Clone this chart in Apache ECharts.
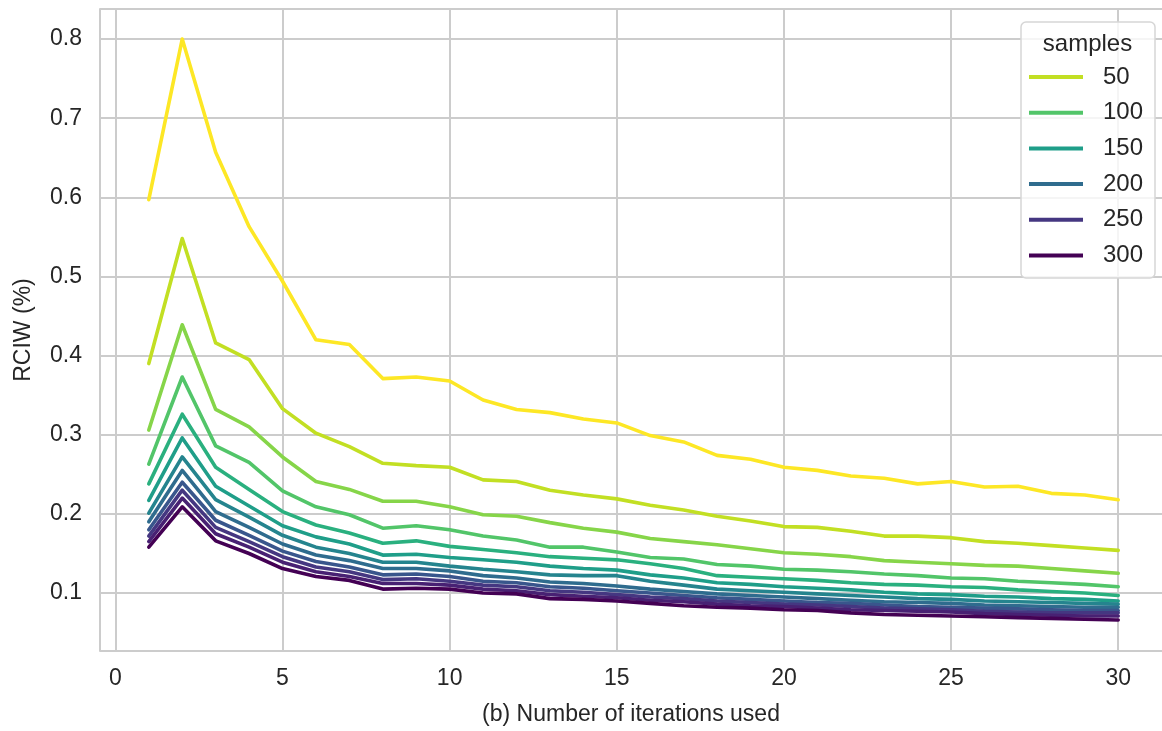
<!DOCTYPE html>
<html>
<head>
<meta charset="utf-8">
<script src="https://cdn.jsdelivr.net/npm/echarts@6/dist/echarts.min.js"></script>
<style>html,body{margin:0;padding:0;background:#fff}#c{width:1162px;height:731px}</style>
</head>
<body>
<div id="c"></div>
<script>
const iterations = [1,2,3,4,5,6,7,8,9,10,11,12,13,14,15,16,17,18,19,20,21,22,23,24,25,26,27,28,29,30];
const sampleSizes = [25,50,75,100,125,150,175,200,225,250,275,300];
const legendSamples = ['50','100','150','200','250','300'];
const seriesColors = ['#fde725','#c2df23','#86d549','#52c569','#2ab07f','#1f9e89','#25848e','#2f6c8e','#39568c','#453781','#482173','#440154'];

const rciw25  = [0.597,0.800,0.657,0.563,0.494,0.420,0.414,0.371,0.373,0.368,0.344,0.332,0.328,0.320,0.315,0.299,0.291,0.274,0.269,0.259,0.255,0.248,0.245,0.238,0.241,0.234,0.235,0.226,0.224,0.218];
const rciw50  = [0.390,0.548,0.416,0.395,0.333,0.302,0.285,0.264,0.261,0.259,0.243,0.241,0.230,0.224,0.219,0.211,0.205,0.197,0.191,0.184,0.183,0.178,0.172,0.172,0.170,0.165,0.163,0.160,0.157,0.154];
const rciw75  = [0.306,0.439,0.332,0.310,0.272,0.241,0.231,0.216,0.216,0.209,0.199,0.197,0.189,0.182,0.177,0.169,0.165,0.161,0.156,0.151,0.149,0.146,0.141,0.139,0.137,0.135,0.134,0.131,0.128,0.125];
const rciw100 = [0.263,0.373,0.286,0.265,0.229,0.209,0.199,0.182,0.185,0.180,0.172,0.167,0.158,0.158,0.152,0.145,0.143,0.136,0.134,0.130,0.129,0.127,0.124,0.122,0.119,0.118,0.115,0.113,0.111,0.108];
const rciw125 = [0.238,0.326,0.259,0.231,0.203,0.186,0.176,0.163,0.166,0.159,0.155,0.151,0.146,0.144,0.142,0.137,0.131,0.122,0.120,0.118,0.116,0.113,0.111,0.110,0.108,0.107,0.104,0.102,0.100,0.097];
const rciw150 = [0.217,0.296,0.235,0.210,0.185,0.171,0.162,0.148,0.149,0.145,0.142,0.139,0.134,0.131,0.129,0.123,0.119,0.113,0.111,0.108,0.106,0.104,0.101,0.099,0.098,0.096,0.095,0.093,0.092,0.090];
const rciw175 = [0.201,0.272,0.218,0.196,0.173,0.158,0.150,0.139,0.139,0.134,0.130,0.127,0.123,0.122,0.122,0.115,0.110,0.105,0.103,0.101,0.099,0.097,0.095,0.093,0.092,0.090,0.089,0.088,0.087,0.086];
const rciw200 = [0.190,0.255,0.203,0.183,0.162,0.148,0.141,0.131,0.131,0.128,0.122,0.119,0.114,0.112,0.109,0.105,0.102,0.099,0.097,0.095,0.093,0.091,0.089,0.088,0.087,0.085,0.084,0.083,0.082,0.082];
const rciw225 = [0.180,0.240,0.192,0.173,0.153,0.140,0.133,0.123,0.124,0.121,0.115,0.113,0.108,0.106,0.103,0.100,0.097,0.094,0.092,0.090,0.088,0.087,0.085,0.083,0.082,0.081,0.080,0.079,0.078,0.078];
const rciw250 = [0.172,0.230,0.183,0.165,0.146,0.133,0.127,0.117,0.118,0.115,0.110,0.108,0.103,0.101,0.098,0.095,0.093,0.090,0.088,0.086,0.085,0.083,0.081,0.080,0.079,0.077,0.076,0.075,0.075,0.075];
const rciw275 = [0.165,0.220,0.175,0.158,0.139,0.127,0.121,0.112,0.112,0.110,0.105,0.103,0.098,0.096,0.094,0.091,0.089,0.086,0.084,0.083,0.081,0.079,0.078,0.077,0.076,0.074,0.073,0.072,0.071,0.071];
const rciw300 = [0.158,0.209,0.166,0.150,0.131,0.121,0.116,0.105,0.106,0.105,0.100,0.099,0.093,0.092,0.090,0.087,0.084,0.082,0.081,0.079,0.078,0.075,0.073,0.072,0.071,0.070,0.069,0.068,0.067,0.066];

const allValues = [rciw25,rciw50,rciw75,rciw100,rciw125,rciw150,rciw175,rciw200,rciw225,rciw250,rciw275,rciw300];

const txt = '#262626';
const gridC = '#cccccc';
const font = '"Liberation Sans", Arial, sans-serif';

const series = sampleSizes.map((s, i) => ({
  name: String(s),
  type: 'line',
  data: iterations.map((x, j) => [x, allValues[i][j]]),
  showSymbol: false,
  symbol: 'none',
  lineStyle: { width: 3.6, color: seriesColors[i], cap: 'round', join: 'round' },
  itemStyle: { color: seriesColors[i] },
  emphasis: { disabled: true },
  animation: false,
  z: 2 + i
}));

const xMin = -0.46, xMax = 31.31;

const chart = echarts.init(document.getElementById('c'), null, { renderer: 'canvas' });
chart.setOption({
  animation: false,
  backgroundColor: '#ffffff',
  textStyle: { fontFamily: font, color: txt },
  grid: { left: 100, top: 9, right: 0, bottom: 79, show: false, containLabel: false },
  xAxis: [{
    type: 'value', min: xMin, max: xMax, splitNumber: 6,
    name: '(b) Number of iterations used', nameLocation: 'middle', nameGap: 52,
    nameTextStyle: { fontSize: 23, color: txt, fontFamily: font },
    axisLine: { show: true, lineStyle: { color: gridC, width: 2 } },
    axisTick: { show: false },
    axisLabel: { show: true, fontSize: 23, color: txt, fontFamily: font, margin: 16, showMinLabel: false, showMaxLabel: false,
      formatter: v => String(Math.round(v)) },
    splitLine: { show: true, showMaxLine: false, lineStyle: { color: gridC, width: 2 } }
  }, {
    type: 'value', position: 'top', min: xMin, max: xMax,
    axisLine: { show: true, onZero: false, lineStyle: { color: gridC, width: 2 } },
    axisTick: { show: false }, axisLabel: { show: false }, splitLine: { show: false }
  }],
  yAxis: {
    type: 'value', min: 0.0268, max: 0.838, splitNumber: 8,
    name: 'RCIW (%)', nameLocation: 'middle', nameGap: 65, nameRotate: 90,
    nameTextStyle: { fontSize: 23, color: txt, fontFamily: font },
    axisLine: { show: true, lineStyle: { color: gridC, width: 2 } },
    axisTick: { show: false },
    axisLabel: { show: true, fontSize: 23, color: txt, fontFamily: font, margin: 18, showMinLabel: false, showMaxLabel: false,
      formatter: v => v.toFixed(1) },
    splitLine: { show: true, lineStyle: { color: gridC, width: 2 } }
  },
  graphic: [
    { type: 'rect', z: 50, shape: { x: 1021, y: 22, width: 134, height: 256, r: 5 },
      style: { fill: 'rgba(255,255,255,0.8)', stroke: '#d6d6d6', lineWidth: 1.5 } },
    { type: 'text', z: 51, x: 1087.5, y: 44, style: { text: 'samples', fill: txt, font: '24px ' + font, textAlign: 'center', textVerticalAlign: 'middle' } }
  ],
  legend: {
    z: 60,
    data: legendSamples,
    orient: 'vertical',
    left: 1029, top: 65,
    itemWidth: 54, itemHeight: 4, itemGap: 11.7,
    icon: 'rect',
    padding: 0,
    textStyle: { fontSize: 24, color: txt, fontFamily: font, lineHeight: 24, padding: [0, 0, 0, 15] },
    selectedMode: false
  },
  series: series
});
</script>
</body>
</html>
